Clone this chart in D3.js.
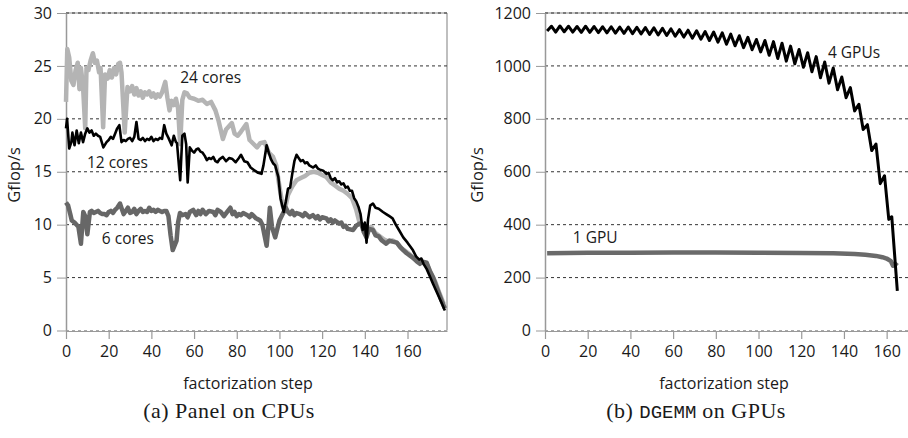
<!DOCTYPE html>
<html>
<head>
<meta charset="utf-8">
<title>Panel on CPUs / DGEMM on GPUs</title>
<script src="https://d3js.org/d3.v7.min.js"></script>
<style>
  body { margin: 0; background: #fff; }
  svg text { font-family: "Open Sans", sans-serif; fill: #1a1a1a; }
  .grid line { stroke: #333; stroke-width: 1; stroke-dasharray: 3,3; }
  .axis path, .axis line { stroke: #999; }
  .caption { font-family: "Liberation Serif", serif; font-size: 22px; letter-spacing: 0.5px; }
  .mono { font-family: "Liberation Mono", monospace; font-size: 19px; letter-spacing: 0; }
</style>
</head>
<body>
<svg id="chart" width="908" height="438"></svg>
<script>
// data, [factorization step, Gflop/s]
var cpuTicks = [0, 5, 10, 15, 20, 25, 30]
var gpuTicks = [0, 200, 400, 600, 800, 1000, 1200]
var stepTicks = [0, 20, 40, 60, 80, 100, 120, 140, 160]

var cores24 = [[0,21.6],[0.6,26.6],[1.5,25.8],[2.5,23.6],[3.5,23.2],[4.5,24.6],[5.5,25.3],[6.3,22.8],[7,24.8],[8,23.0],[9,19.1],[9.6,24.8],[10.5,24.6],[11.5,25.5],[12.6,26.2],[13.5,25.3],[14.5,25.5],[15.5,24.4],[16.2,24.8],[17.4,19.2],[18.3,24.2],[19.5,23.8],[20.5,24.6],[21.5,23.9],[22.5,24.8],[23.5,24.2],[24.5,25.2],[25.3,25.3],[26,24.4],[27.5,18.7],[28.8,23.0],[30,22.6],[31,23.1],[32,22.3],[33,22.9],[34,22.2],[35,22.6],[36,22.0],[37,22.5],[38,22.3],[39,22.6],[40,22.1],[41,22.4],[42,22.0],[43,22.3],[44,22.1],[45,22.5],[46.5,23.5],[47.5,22.0],[48.5,20.8],[49.5,21.7],[50.5,21.3],[51.5,21.9],[52.5,21.0],[53.5,17.6],[54.5,21.8],[55.5,22.5],[56.7,22.4],[58,22.0],[60,21.9],[62,21.7],[64,21.8],[66,21.4],[68,21.6],[70,20.8],[71.5,19.8],[73.5,18.1],[75,19.0],[77.7,19.6],[79,18.6],[80.5,18.4],[82,18.8],[84.5,19.5],[86,18.0],[88,17.6],[89.5,17.3],[91,17.7],[93,17.8],[95,16.8],[97,16.4],[98.5,15.6],[100,13.6],[101.5,11.8],[102.5,11.4],[104,12.8],[106,13.6],[108,14.2],[110,14.4],[112,14.6],[114,14.9],[116,15.0],[118,14.9],[120,14.7],[122,14.5],[124,14.0],[126,13.7],[128,13.4],[130,13.2],[132,12.9],[134,12.5],[136,11.4],[137.5,10.2],[139,9.8],[141,9.6],[143,9.8],[145,9.2],[147,8.9],[149,8.6],[151,8.4],[153,8.5],[155,8.3],[157,7.8],[159,7.5],[161,7.2],[163,6.8],[165,6.6],[167,6.4],[169,6.3],[171,5.4],[173,4.6],[175,3.5],[177,2.5]]

var cores12 = [[0,19.1],[0.5,20.0],[1.5,17.2],[2.5,17.8],[3,18.7],[4,17.5],[5,18.9],[6,17.7],[7,18.7],[8,17.8],[9,18.6],[10,19.1],[11,18.7],[12,18.9],[13,18.4],[14,18.6],[15,18.4],[16,18.3],[17.5,17.3],[19,17.8],[20,18.0],[21,18.3],[22,18.1],[23,18.6],[24,19.1],[25,19.4],[26,17.8],[27,18.0],[28,17.9],[29,18.1],[30,18.2],[31,17.9],[32,18.3],[33,19.7],[34,18.1],[35,18.0],[36,18.2],[37,17.9],[38,18.1],[39,18.0],[40,18.3],[41,17.9],[42,18.1],[43,18.0],[44,18.2],[45,18.1],[46,19.4],[47,18.6],[48,18.2],[49.5,17.5],[50.5,18.4],[51.5,17.8],[52,17.7],[53.5,14.2],[54.5,18.4],[55.5,18.6],[56.3,17.6],[57,14.0],[58,17.3],[59,17.0],[60,16.8],[61,17.1],[62,17.2],[63,16.9],[64,16.8],[65,16.5],[66,16.1],[67,16.3],[68,16.2],[69,16.4],[70,16.0],[71,15.9],[72,16.2],[73.5,16.4],[75,16.0],[76.5,16.3],[78,16.2],[79.5,15.9],[81,16.3],[82,16.6],[83.5,16.0],[85,15.9],[86.5,15.4],[88.5,15.1],[90,14.9],[91.6,14.8],[92.5,15.6],[94,17.5],[95,16.8],[96,16.2],[97,15.8],[98,15.6],[99.5,14.5],[100.5,12.5],[102,11.2],[103,12.2],[104,13.4],[105,13.5],[106,14.8],[107,16.0],[108,16.6],[109,16.3],[110,16.0],[111,16.1],[112,15.8],[113,15.9],[114,15.6],[115.8,15.4],[117,15.6],[118,15.3],[119,15.2],[120.5,15.1],[122,14.8],[123,14.9],[124,14.4],[125,14.2],[126,14.4],[127,14.0],[128,14.1],[129,13.8],[130,13.9],[131,13.5],[132,13.6],[133,13.2],[134,13.2],[135,12.5],[136,12.2],[137,11.7],[138,11.0],[139,9.5],[140,10.2],[140.8,8.3],[141.5,10.5],[142.5,11.8],[143.8,12.0],[145,11.6],[146.5,11.5],[148.5,11.2],[150,11.0],[151.5,10.8],[153,10.6],[154.5,10.0],[156,9.5],[158,8.8],[160,8.3],[162.5,7.6],[164,7.0],[165.5,6.7],[166.5,6.8],[167.5,6.3],[169,5.8],[170.5,5.1],[172,4.4],[174,3.5],[176,2.6],[177.5,1.9]]

var cores6 = [[0,12.1],[1,11.8],[2,11.0],[2.7,10.4],[4,10.2],[5.8,9.8],[7,8.2],[8.1,11.2],[9,10.8],[10,9.1],[11.2,11.2],[12,11.3],[13,11.1],[14,11.2],[15,11.3],[16,11.1],[17,11.0],[18,11.0],[19,10.9],[20,11.2],[21,11.3],[22,11.1],[23,11.4],[24,11.6],[25.3,12.0],[26.3,11.4],[27,11.0],[28,11.3],[29,11.6],[30,11.1],[31,11.2],[32,11.5],[33,11.0],[34,11.3],[35,11.5],[36,11.2],[37,11.3],[38,11.2],[39,11.6],[40,11.3],[41,11.4],[42,11.2],[43,11.4],[44,11.3],[45,11.2],[46,11.3],[47,11.3],[48,10.8],[49,9.0],[50,7.6],[51.8,8.5],[52.5,10.2],[53.4,11.1],[54.5,10.9],[56,11.0],[57,10.7],[58,11.2],[59.6,11.4],[61,10.9],[62,11.3],[63,11.0],[64,11.4],[65.5,11.0],[67,11.3],[69,11.2],[70,10.9],[71,11.4],[72.5,11.2],[74,10.8],[75.5,11.2],[77,11.6],[78,11.0],[79,11.2],[80,10.8],[81,11.0],[82,10.9],[83,11.1],[85,10.9],[86,10.7],[87,11.0],[88,10.8],[89,10.6],[90,10.5],[91,10.4],[92,10.0],[93,9.0],[94,8.0],[95,10.2],[95.5,11.6],[96.5,9.8],[98,8.8],[99,9.6],[100,10.4],[101,10.8],[103,11.6],[104,11.2],[105,11.0],[106,11.3],[107,10.9],[108,11.1],[109.6,11.0],[111,10.8],[112,11.1],[113,10.9],[114,10.7],[115.7,10.9],[117,10.6],[118,10.8],[119,10.5],[120,10.7],[122,10.6],[123,10.3],[124,10.5],[125,10.2],[126,10.4],[128,10.1],[129,10.2],[130,9.8],[131,9.9],[132,9.6],[134.5,9.5],[136,9.9],[137.5,10.1],[138.5,10.0],[139.5,9.3],[140.8,8.8],[142,9.6],[143.8,9.5],[145,9.0],[146.5,8.9],[148,8.5],[150,8.2],[151.5,8.5],[153,8.4],[155,8.3],[156.5,7.9],[158,7.6],[159.6,7.3],[161,7.1],[163,6.8],[164.5,6.5],[165.8,6.3],[167,6.5],[169,6.4],[170.5,5.6],[172,5.0],[174,3.9],[176,2.8],[177.5,2.1]]

var gpus4 = [[1,1132],[3,1150],[5,1128],[7,1151],[9,1129],[11,1150],[13,1128],[15,1149],[17,1127],[19,1150],[21,1127],[23,1149],[25,1126],[27,1148],[29,1125],[31,1148],[33,1124],[35,1147],[37,1123],[39,1147],[41,1122],[43,1146],[45,1121],[47,1145],[49,1119],[51,1144],[53,1117],[55,1142],[57,1115],[59,1140],[61,1112],[63,1137],[65,1109],[67,1135],[69,1105],[71,1133],[73,1101],[75,1130],[77,1096],[79,1128],[81,1090],[83,1125],[85,1082],[87,1120],[89,1076],[91,1114],[93,1069],[95,1108],[97,1061],[99,1100],[101,1053],[103,1096],[105,1040],[107,1092],[109,1028],[111,1086],[113,1018],[115,1075],[117,1008],[119,1062],[121,995],[123,1050],[125,978],[127,1035],[129,955],[131,1015],[133,935],[135,992],[137,910],[139,958],[141,880],[143,918],[145,830],[147,855],[149,760],[151,778],[153,680],[155,705],[157,555],[159,585],[161,420],[162.4,430],[165,150]]

var gpus1 = [[1,292],[20,294],[40,294],[60,295],[80,295],[100,294],[120,293],[135,292],[145,289],[150,286],[155,282],[158,277],[160,272],[162,262],[163,245],[164,252],[165,245]]

var svg = d3.select("#chart")

function drawPanel(cfg) {
  var x = d3.scaleLinear().domain(cfg.xDomain).range([cfg.left, cfg.right])
  var y = d3.scaleLinear().domain(cfg.yDomain).range([330.5, 13])
  var g = svg.append("g")

  // frame
  g.append("line").attr("x1", cfg.left).attr("x2", cfg.right)
    .attr("y1", 13).attr("y2", 13).attr("stroke", "#888")
  if (cfg.frameRight) {
    g.append("line").attr("x1", cfg.right).attr("x2", cfg.right)
      .attr("y1", 13).attr("y2", 330.5).attr("stroke", "#aaa").attr("stroke-width", 1.5)
  }

  // grid
  g.append("g").attr("class", "grid")
    .selectAll("line").data(cfg.yTicks).join("line")
    .attr("x1", cfg.left).attr("x2", cfg.right)
    .attr("y1", d => y(d)).attr("y2", d => y(d))
    .style("stroke", d => d == 0 ? "#aaa" : null)

  // axes
  var ax = g.append("g").attr("class", "axis")
    .attr("transform", "translate(" + cfg.left + ",0)")
    .call(d3.axisLeft(y).tickValues(cfg.yTicks).tickFormat(d3.format("d"))
      .tickSize(9).tickPadding(5).tickSizeOuter(0))
  ax.select(".domain").attr("stroke-width", 1.5)
  ax.selectAll("text").attr("font-size", 16)

  var bx = g.append("g").attr("class", "axis")
    .attr("transform", "translate(0,331)")
    .call(d3.axisBottom(x).tickValues(stepTicks).tickSize(8).tickPadding(7).tickSizeOuter(0))
  bx.select(".domain").attr("stroke", "#ccc")
  bx.selectAll("line").attr("stroke", "#aaa").attr("stroke-width", 1.2)
  bx.selectAll("text").attr("font-size", 16)

  var line = d3.line().x(d => x(d[0])).y(d => y(d[1]))
  cfg.series.forEach(function(s) {
    g.append("path").datum(s.data)
      .attr("d", line)
      .attr("fill", "none")
      .attr("stroke", s.color)
      .attr("stroke-width", s.width)
      .attr("stroke-linejoin", "round")
  })

  cfg.labels.forEach(function(l) {
    g.append("text").attr("x", x(l.at[0])).attr("y", y(l.at[1]))
      .attr("font-size", 15.5).text(l.text)
  })

  g.append("text")
    .attr("transform", "translate(" + cfg.titleX + ",175) rotate(-90)")
    .attr("text-anchor", "middle").attr("font-size", 16.5)
    .text("Gflop/s")

  g.append("text")
    .attr("x", cfg.stepX).attr("y", 389)
    .attr("text-anchor", "middle").attr("font-size", 16)
    .text("factorization step")
}

drawPanel({
  left: 66, right: 447, xDomain: [0, 178.5], yDomain: [0, 30],
  yTicks: cpuTicks, frameRight: true, titleX: 20, stepX: 248,
  series: [
    {data: cores24, color: "#b4b4b4", width: 4.5},
    {data: cores6, color: "#676767", width: 4.5},
    {data: cores12, color: "#000", width: 2.6}
  ],
  labels: [
    {text: "24 cores", at: [53.5, 23.4]},
    {text: "12 cores", at: [9.8, 15.4]},
    {text: "6 cores", at: [16.8, 8.2]}
  ]
})

drawPanel({
  left: 545, right: 908, xDomain: [0, 170], yDomain: [0, 1200],
  yTicks: gpuTicks, frameRight: false, titleX: 483, stepX: 724,
  series: [
    {data: gpus1, color: "#6a6a6a", width: 4.5},
    {data: gpus4, color: "#000", width: 3}
  ],
  labels: [
    {text: "4 GPUs", at: [132.5, 1030]},
    {text: "1 GPU", at: [13, 330]}
  ]
})

// captions
var cap = svg.append("g")
cap.append("text").attr("class", "caption").attr("x", 229).attr("y", 418)
  .attr("text-anchor", "middle").text("(a) Panel on CPUs")
var capB = cap.append("text").attr("class", "caption").attr("x", 696).attr("y", 418)
  .attr("text-anchor", "middle")
capB.append("tspan").text("(b) ")
capB.append("tspan").attr("class", "mono").text("DGEMM")
capB.append("tspan").text(" on GPUs")
</script>
</body>
</html>
